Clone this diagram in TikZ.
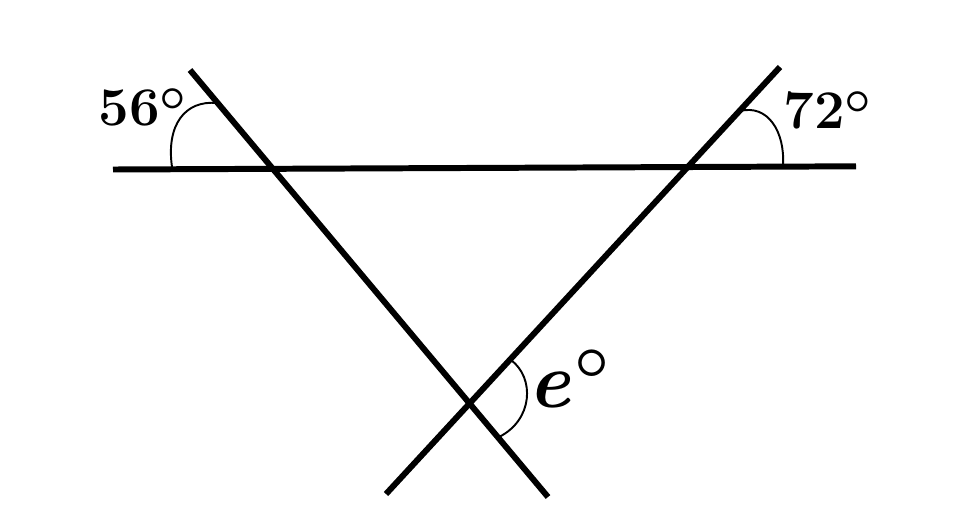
\documentclass[tikz,border=0pt]{standalone}
\usepackage{tikz}

\newcommand{\degring}[2]{{\mdseries\fontsize{#1}{#1}\selectfont\raisebox{#2}{\textdegree}}}

\begin{document}
\begin{tikzpicture}[
  x=0.02cm, y=-0.02cm,
  ray/.style={line width=3.4pt, color=black},
  anglemark/.style={line width=1.1pt, color=black},
  lbl/.style={inner sep=0pt, font=\fontsize{31}{36}\selectfont\bfseries},
  elbl/.style={inner sep=0pt, font=\fontsize{45}{50}\selectfont\bfseries}
]
\useasboundingbox (0,0) rectangle (954,529);

% the three lines
\coordinate (hl) at (113,169.5);
\coordinate (hr) at (856,166.3);
\coordinate (ltop) at (190,70);
\coordinate (lbot) at (548,497);
\coordinate (rtop) at (780,67);
\coordinate (rbot) at (386,494);

\draw[ray] (hl) -- (hr);
\draw[ray] (ltop) -- (lbot);
\draw[ray] (rtop) -- (rbot);

% angle marks
\draw[anglemark] (172,167) .. controls (166,125) and (185,100) .. (217,103);
\draw[anglemark] (740,111) .. controls (768,104) and (785,132) .. (783,165);
\draw[anglemark] (511,360) .. controls (535,378) and (533,420) .. (499,437);

\node[lbl, anchor=base west] (a56) at (98,125) {56\degring{44}{-9.5pt}};
\node[lbl, anchor=base west] (a72) at (783,128) {72\degring{44}{-9.5pt}};
\node[elbl, anchor=base west] (ae) at (528,407) {\textit{e}\kern2pt\degring{58}{-7pt}};

\end{tikzpicture}
\end{document}
